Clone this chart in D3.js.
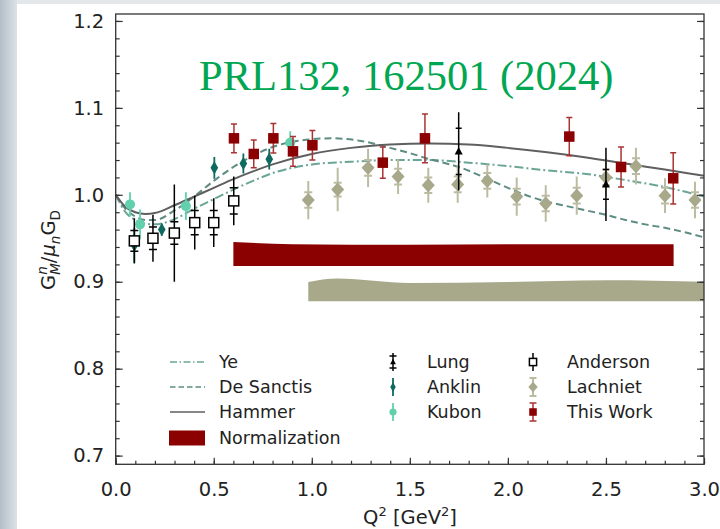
<!DOCTYPE html>
<html><head><meta charset="utf-8">
<script src="https://cdn.jsdelivr.net/npm/d3@7"></script>
<style>body{margin:0;background:#fff}svg{display:block}</style>
</head><body>
<script>
// ---------- data ----------
const xTicks = [0, 0.5, 1.0, 1.5, 2.0, 2.5, 3.0];
const yTicks = [0.7, 0.8, 0.9, 1.0, 1.1, 1.2];

// theory curves (Q^2, G_M^n / mu_n G_D)
const hammerQ2 = [0, 0.05, 0.1, 0.15, 0.2, 0.3, 0.4, 0.5, 0.6, 0.7, 0.8, 1.0, 1.2, 1.4, 1.6, 1.8, 2.0, 2.2, 2.4, 2.6, 2.8, 3.0];
const hammerG  = [1.000, 0.986, 0.980, 0.978, 0.979, 0.988, 0.998, 1.008, 1.018, 1.027, 1.035, 1.047, 1.054, 1.058, 1.059, 1.058, 1.054, 1.049, 1.043, 1.036, 1.029, 1.022];
const sanctisQ2 = [0, 0.05, 0.1, 0.15, 0.2, 0.3, 0.4, 0.5, 0.6, 0.7, 0.8, 0.9, 1.0, 1.1, 1.25, 1.4, 1.5, 1.6, 1.75, 1.9, 2.0, 2.1, 2.2, 2.3, 2.4, 2.5, 2.6, 2.7, 2.8, 2.9, 3.0];
const sanctisG  = [1.000, 0.984, 0.975, 0.971, 0.971, 0.982, 0.998, 1.016, 1.032, 1.045, 1.055, 1.061, 1.064, 1.065, 1.062, 1.054, 1.048, 1.041, 1.032, 1.018, 1.008, 0.999, 0.992, 0.987, 0.982, 0.977, 0.971, 0.966, 0.962, 0.957, 0.951];
const yeQ2 = [0, 0.05, 0.1, 0.15, 0.2, 0.3, 0.4, 0.5, 0.6, 0.7, 0.8, 0.9, 1.0, 1.2, 1.4, 1.6, 1.8, 2.0, 2.2, 2.4, 2.6, 2.8, 3.0];
const yeG  = [1.000, 0.980, 0.971, 0.967, 0.966, 0.972, 0.984, 0.995, 1.006, 1.016, 1.025, 1.031, 1.035, 1.038, 1.040, 1.040, 1.037, 1.033, 1.028, 1.024, 1.017, 1.009, 0.998];

// normalization bands
const normThisQ2  = [0.6, 0.9, 1.5, 2.0, 2.845];
const normThisTop = [0.9457, 0.9432, 0.9425, 0.9430, 0.9430];
const normThisBot = [0.918, 0.918, 0.918, 0.918, 0.918];
const normLachQ2  = [0.982, 1.13, 1.5, 2.0, 2.5, 3.05];
const normLachTop = [0.8997, 0.9036, 0.8985, 0.8997, 0.9016, 0.8997];
const normLachBot = [0.8775, 0.8775, 0.8775, 0.8775, 0.8775, 0.8775];

// data sets
const lungQ2 = [1.749, 2.500];
const lungG = [1.050, 1.012];
const lungErr = [0.045, 0.042];
const lungStat = [0.0265, 0.017];

const andersonQ2 = [0.095, 0.190, 0.299, 0.403, 0.500, 0.602];
const andersonG = [0.947, 0.950, 0.956, 0.968, 0.968, 0.993];
const andersonErr = [0.026, 0.027, 0.056, 0.031, 0.028, 0.028];
const andersonStat = [0.012, 0.013, 0.013, 0.014, 0.014, 0.015];

const anklinQ2 = [0.095, 0.235, 0.503, 0.651, 0.783];
const anklinG = [0.942, 0.960, 1.031, 1.036, 1.041];
const anklinErr = [0.020, 0.007, 0.0125, 0.0115, 0.012];

const kubonQ2 = [0.073, 0.124, 0.358, 0.890];
const kubonG = [0.989, 0.966, 0.987, 1.060];
const kubonErr = [0.014, 0.017, 0.016, 0.013];

const lachQ2 = [0.982, 1.132, 1.287, 1.440, 1.594, 1.744, 1.895, 2.045, 2.193, 2.351, 2.500, 2.653, 2.801, 2.954];
const lachG = [0.994, 1.006, 1.031, 1.021, 1.011, 1.012, 1.016, 0.998, 0.990, 0.999, 1.020, 1.033, 0.999, 0.994];
const lachErr = [0.022, 0.025, 0.022, 0.020, 0.020, 0.021, 0.019, 0.022, 0.021, 0.022, 0.022, 0.021, 0.020, 0.021];
const lachStat = [0.009, 0.008, 0.009, 0.009, 0.009, 0.009, 0.009, 0.009, 0.009, 0.009, 0.009, 0.009, 0.009, 0.009];

const thisQ2 = [0.603, 0.704, 0.804, 0.904, 1.003, 1.362, 1.577, 2.313, 2.577, 2.843];
const thisG = [1.065, 1.047, 1.065, 1.050, 1.057, 1.037, 1.065, 1.067, 1.032, 1.019];
const thisErr = [0.0165, 0.016, 0.017, 0.017, 0.017, 0.018, 0.028, 0.022, 0.023, 0.0295];

const legendCol1 = ["Ye", "De Sanctis", "Hammer", "Normalization"];
const legendCol2 = ["Lung", "Anklin", "Kubon"];
const legendCol3 = ["Anderson", "Lachniet", "This Work"];
const annotation = "PRL132, 162501 (2024)";

// ---------- drawing ----------
const W = 720, H = 529;
const L = 115.7, R = 704, T = 14, B = 464.3;
const x = d3.scaleLinear().domain([0, 3]).range([L, R]);
const y = d3.scaleLinear().domain([0.69, 1.208]).range([B, T]);

const svg = d3.select("body").append("svg").attr("width", W).attr("height", H);
const defs = svg.append("defs");
const grad = defs.append("linearGradient").attr("id", "bg").attr("x1", 0).attr("x2", 1);
grad.append("stop").attr("offset", "0%").attr("stop-color", "#b3bfc9");
grad.append("stop").attr("offset", "100%").attr("stop-color", "#dce2e7");
svg.append("rect").attr("width", W).attr("height", H).attr("fill", "#fff");
svg.append("rect").attr("x", 0).attr("y", 0).attr("width", 17).attr("height", H).attr("fill", "url(#bg)");
svg.append("rect").attr("x", 17).attr("y", 0).attr("width", W - 17).attr("height", 4).attr("fill", "#e4e7ea");

defs.append("clipPath").attr("id", "clip").append("rect")
  .attr("x", L).attr("y", T).attr("width", R - L).attr("height", B - T);

const font = "'DejaVu Sans', sans-serif";
const plot = svg.append("g").attr("clip-path", "url(#clip)");

// bands
function band(q, top, bot, color) {
  const pts = q.map((d, i) => ({ q: d, t: top[i], b: bot[i] }));
  const area = d3.area().x(d => x(d.q)).y0(d => y(d.b)).y1(d => y(d.t)).curve(d3.curveMonotoneX);
  plot.append("path").datum(pts).attr("d", area).attr("fill", color);
}
band(normThisQ2, normThisTop, normThisBot, "#8b0000");
band(normLachQ2, normLachTop, normLachBot, "#a8a88b");

// curves
function curve(q, g, color, dash) {
  const pts = q.map((d, i) => [d, g[i]]);
  const line = d3.line().x(d => x(d[0])).y(d => y(d[1])).curve(d3.curveMonotoneX);
  plot.append("path").datum(pts).attr("d", line).attr("fill", "none")
    .attr("stroke", color).attr("stroke-width", 2).attr("stroke-dasharray", dash);
}
curve(yeQ2, yeG, "#6aa596", "9,3,2,3");
curve(sanctisQ2, sanctisG, "#5e8c82", "7,4");
curve(hammerQ2, hammerG, "#5f5f5f", null);

// markers
function markerPath(sel, type, s) {
  if (type === "square") sel.append("rect").attr("x", -s / 2).attr("y", -s / 2).attr("width", s).attr("height", s);
  else if (type === "diamond") sel.append("path").attr("d", `M0,${-s * 0.55}L${s * 0.5},0L0,${s * 0.55}L${-s * 0.5},0Z`);
  else if (type === "thin") sel.append("path").attr("d", `M0,${-s * 0.55}L${s * 0.32},0L0,${s * 0.55}L${-s * 0.32},0Z`);
  else if (type === "circle") sel.append("circle").attr("r", s / 2);
  else if (type === "triangle") sel.append("path").attr("d", `M0,${-s * 0.55}L${s * 0.5},${s * 0.4}L${-s * 0.5},${s * 0.4}Z`);
  return sel;
}
function series(q, g, err, stat, opt) {
  const grp = plot.append("g");
  q.forEach((d, i) => {
    const cx = x(d), cy = y(g[i]);
    const gg = grp.append("g");
    gg.append("line").attr("x1", cx).attr("x2", cx).attr("y1", y(g[i] + err[i])).attr("y2", y(g[i] - err[i]))
      .attr("stroke", opt.ecolor).attr("stroke-width", opt.ew);
    if (opt.capEnds) {
      [g[i] + err[i], g[i] - err[i]].forEach(v => gg.append("line").attr("x1", cx - opt.cap).attr("x2", cx + opt.cap)
        .attr("y1", y(v)).attr("y2", y(v)).attr("stroke", opt.ecolor).attr("stroke-width", opt.ew));
    }
    if (stat) {
      [g[i] + stat[i], g[i] - stat[i]].forEach(v => gg.append("line").attr("x1", cx - opt.cap).attr("x2", cx + opt.cap)
        .attr("y1", y(v)).attr("y2", y(v)).attr("stroke", opt.ecolor).attr("stroke-width", opt.ew));
    }
    const m = gg.append("g").attr("transform", `translate(${cx},${cy})`);
    markerPath(m, opt.type, opt.size).selectAll("*").attr("fill", opt.fill).attr("stroke", opt.stroke || "none").attr("stroke-width", opt.sw || 0);
  });
}
const styles = {
  anderson: { type: "square", size: 10, fill: "#fff", stroke: "#000", sw: 1.5, ecolor: "#000", ew: 1.5, cap: 4 },
  anklin: { type: "thin", size: 12, fill: "#0e6a5e", ecolor: "#0e6a5e", ew: 1.8, cap: 0 },
  kubon: { type: "circle", size: 10, fill: "#62d0ad", ecolor: "#62d0ad", ew: 1.8, cap: 0 },
  lach: { type: "diamond", size: 13, fill: "#a8a88b", ecolor: "#bcbca2", ew: 2, cap: 4 },
  lung: { type: "triangle", size: 8, fill: "#000", ecolor: "#000", ew: 1.5, cap: 3 },
  thisw: { type: "square", size: 10.5, fill: "#8b0000", ecolor: "#a93333", ew: 1.5, cap: 3, capEnds: true }
};
series(anklinQ2, anklinG, anklinErr, null, styles.anklin);
series(kubonQ2, kubonG, kubonErr, null, styles.kubon);
series(andersonQ2, andersonG, andersonErr, andersonStat, styles.anderson);
series(lachQ2, lachG, lachErr, lachStat, styles.lach);
series(lungQ2, lungG, lungErr, lungStat, styles.lung);
series(thisQ2, thisG, thisErr, null, styles.thisw);

// annotation
svg.append("text").attr("x", 199).attr("y", 90).attr("font-family", "'Liberation Serif', 'Times New Roman', serif")
  .attr("font-size", 42.5).attr("fill", "#00a651").text(annotation);

// axes
const spine = "#333";
const minorX = d3.range(0, 3.001, 0.1);
const minorY = d3.range(0.7, 1.2001, 0.02);
function styleAxis(g) { g.select(".domain").remove(); g.selectAll("line").attr("stroke", spine).attr("stroke-width", 1.2); }
svg.append("g").attr("transform", `translate(${L},0)`).call(d3.axisLeft(y).tickValues(minorY).tickSize(-4).tickFormat("")).call(styleAxis);
svg.append("g").attr("transform", `translate(${R},0)`).call(d3.axisRight(y).tickValues(minorY).tickSize(-4).tickFormat("")).call(styleAxis);
svg.append("g").attr("transform", `translate(0,${B})`).call(d3.axisBottom(x).tickValues(minorX).tickSize(-3.5).tickFormat("")).call(styleAxis);
const yAx = svg.append("g").attr("transform", `translate(${L},0)`).call(d3.axisLeft(y).tickValues(yTicks).tickSize(-7).tickPadding(11.5).tickFormat(d3.format(".1f"))).call(styleAxis);
svg.append("g").attr("transform", `translate(${R},0)`).call(d3.axisRight(y).tickValues(yTicks).tickSize(-7).tickFormat("")).call(styleAxis);
const xAx = svg.append("g").attr("transform", `translate(0,${B})`).call(d3.axisBottom(x).tickValues(xTicks).tickSize(-6.5).tickPadding(18).tickFormat(d3.format(".1f"))).call(styleAxis);
[yAx, xAx].forEach(a => a.selectAll("text").attr("font-family", font).attr("font-size", 19.5).attr("fill", "#222"));
svg.append("rect").attr("x", L).attr("y", T).attr("width", R - L).attr("height", B - T)
  .attr("fill", "none").attr("stroke", spine).attr("stroke-width", 1.3);

// axis labels
const xl = svg.append("text").attr("x", 410).attr("y", 524).attr("text-anchor", "middle")
  .attr("font-family", font).attr("font-size", 19.5).attr("fill", "#222");
xl.append("tspan").text("Q");
xl.append("tspan").attr("font-size", 13).attr("dy", -8).text("2");
xl.append("tspan").attr("dy", 8).text(" [GeV");
xl.append("tspan").attr("font-size", 13).attr("dy", -8).text("2");
xl.append("tspan").attr("dy", 8).text("]");

const yl = svg.append("text").attr("transform", "translate(55,250) rotate(-90)").attr("text-anchor", "middle")
  .attr("font-family", font).attr("font-size", 19.5).attr("fill", "#222");
yl.append("tspan").text("G");
yl.append("tspan").attr("font-size", 13.5).attr("font-style", "italic").attr("dy", -8).text("n");
yl.append("tspan").attr("font-size", 13.5).attr("font-style", "italic").attr("dx", -8.5).attr("dy", 13).text("M");
yl.append("tspan").attr("dy", -5).text("/");
yl.append("tspan").attr("font-style", "italic").text("μ");
yl.append("tspan").attr("font-size", 13.5).attr("font-style", "italic").attr("dy", 5).text("n");
yl.append("tspan").attr("dy", -5).text("G");
yl.append("tspan").attr("font-size", 13.5).attr("dy", 5).text("D");

// legend
const lg = svg.append("g").attr("font-family", font).attr("font-size", 17.5).attr("fill", "#222");
const rows = [362, 387, 412, 438];
const lx1 = 170, lx2 = 205;
lg.append("line").attr("x1", lx1).attr("x2", lx2).attr("y1", rows[0]).attr("y2", rows[0]).attr("stroke", "#6aa596").attr("stroke-width", 1.5).attr("stroke-dasharray", "7,2.5,1.5,2.5");
lg.append("line").attr("x1", lx1).attr("x2", lx2).attr("y1", rows[1]).attr("y2", rows[1]).attr("stroke", "#5e8c82").attr("stroke-width", 1.5).attr("stroke-dasharray", "5.5,3");
lg.append("line").attr("x1", lx1).attr("x2", lx2).attr("y1", rows[2]).attr("y2", rows[2]).attr("stroke", "#5f5f5f").attr("stroke-width", 1.5);
lg.append("rect").attr("x", lx1 - 1).attr("y", rows[3] - 7.5).attr("width", 36).attr("height", 15).attr("fill", "#8b0000");
legendCol1.forEach((t, i) => lg.append("text").attr("x", 219).attr("y", rows[i]).attr("dy", "0.36em").text(t));

function legendMarker(cx, cy, st, capEnd, capMid) {
  const gg = lg.append("g");
  gg.append("line").attr("x1", cx).attr("x2", cx).attr("y1", cy - 9).attr("y2", cy + 9).attr("stroke", st.ecolor).attr("stroke-width", st.ew);
  const caps = [];
  if (capEnd) caps.push(cy - 9, cy + 9);
  if (capMid) caps.push(cy - 6, cy + 6);
  caps.forEach(v => gg.append("line").attr("x1", cx - 3.5).attr("x2", cx + 3.5).attr("y1", v).attr("y2", v).attr("stroke", st.ecolor).attr("stroke-width", st.ew));
  const m = gg.append("g").attr("transform", `translate(${cx},${cy})`);
  markerPath(m, st.type, st.size * 0.72).selectAll("*").attr("fill", st.fill).attr("stroke", st.stroke || "none").attr("stroke-width", st.sw || 0);
}
const col2Styles = [styles.lung, styles.anklin, styles.kubon];
const col3Styles = [styles.anderson, styles.lach, styles.thisw];
legendMarker(393, rows[0], styles.lung, false, true);
legendMarker(393, rows[1], styles.anklin, false, false);
legendMarker(393, rows[2], styles.kubon, false, false);
legendMarker(533, rows[0], styles.anderson, false, false);
legendMarker(533, rows[1], styles.lach, true, false);
legendMarker(533, rows[2], styles.thisw, true, false);
legendCol2.forEach((t, i) => lg.append("text").attr("x", 427).attr("y", rows[i]).attr("dy", "0.36em").text(t));
legendCol3.forEach((t, i) => lg.append("text").attr("x", 567).attr("y", rows[i]).attr("dy", "0.36em").text(t));
</script>
</body></html>
